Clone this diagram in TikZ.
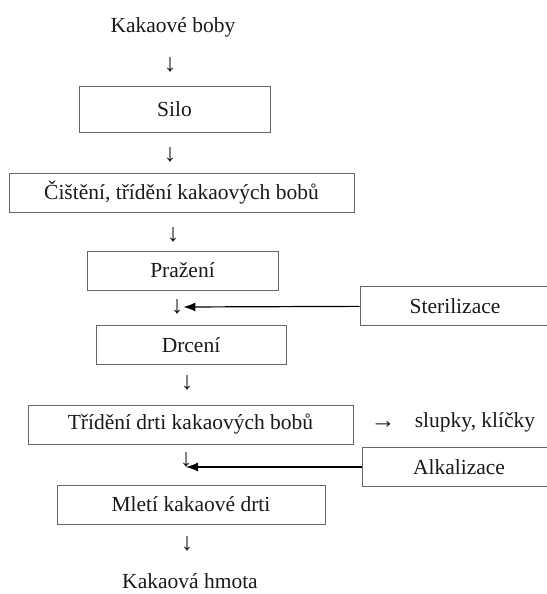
\documentclass[tikz,border=0pt]{standalone}
\usepackage{fontspec}
\usetikzlibrary{arrows.meta}
\setmainfont{Liberation Serif}

\begin{document}
\begin{tikzpicture}[x=1pt,y=-1pt,every path/.style={>={Latex[length=12pt,width=9pt]}},
  every node/.style={font=\fontsize{21.5}{25}\selectfont,text=black!90},
  stage/.style={draw=black!60,line width=1pt,rectangle,minimum height=39pt,inner sep=0pt},
  down/.style={inner sep=0pt,font=\fontsize{25}{28}\selectfont}]
\useasboundingbox (0,0) rectangle (546,594);
\node                                        (boby)  at (173,27)    { Kakaové boby };
\node[down]                                  (d1)    at (170,65)    { ↓ };
\node[stage, minimum width=191pt, minimum height=46pt] (silo) at (174.5,109) { Silo };
\node[down]                                  (d2)    at (170,155)   { ↓ };
\node[stage, minimum width=345pt]            (cist)  at (181.5,192.5) { Čištění, třídění kakaových bobů };
\node[down]                                  (d3)    at (173,235)   { ↓ };
\node[stage, minimum width=191pt]            (praz)  at (182.5,270.5) { Pražení };
\node[down]                                  (d4)    at (177,307)   { ↓ };
\node[stage, minimum width=190pt]            (steril) at (455,306)  { Sterilizace };
\node[stage, minimum width=190pt]            (drc)   at (191,345)   { Drcení };
\node[down]                                  (d5)    at (187,383)   { ↓ };
\node[stage, minimum width=325pt]            (trid)  at (190.5,424.5) { Třídění drti kakaových bobů };
\node[down]                                  (r1)    at (383,425)   { → };
\node                                        (slup)  at (475,422)   { slupky, klíčky };
\node[down, anchor=south]                    (d6)    at (186,467)   { ↓ };
\node[stage, minimum width=194pt]            (alkal) at (459,467)   { Alkalizace };
\node[stage, minimum width=268pt]            (mlet)  at (191,504.5) { Mletí kakaové drti };
\node[down]                                  (d7)    at (187,544)   { ↓ };
\node                                        (hmota) at (190,581)   { Kakaová hmota };
\draw[->, line width=1.2pt] (steril) edge (d4.east);
\draw[->, line width=1.2pt] (alkal)  edge (d6.south);
\end{tikzpicture}
\end{document}
